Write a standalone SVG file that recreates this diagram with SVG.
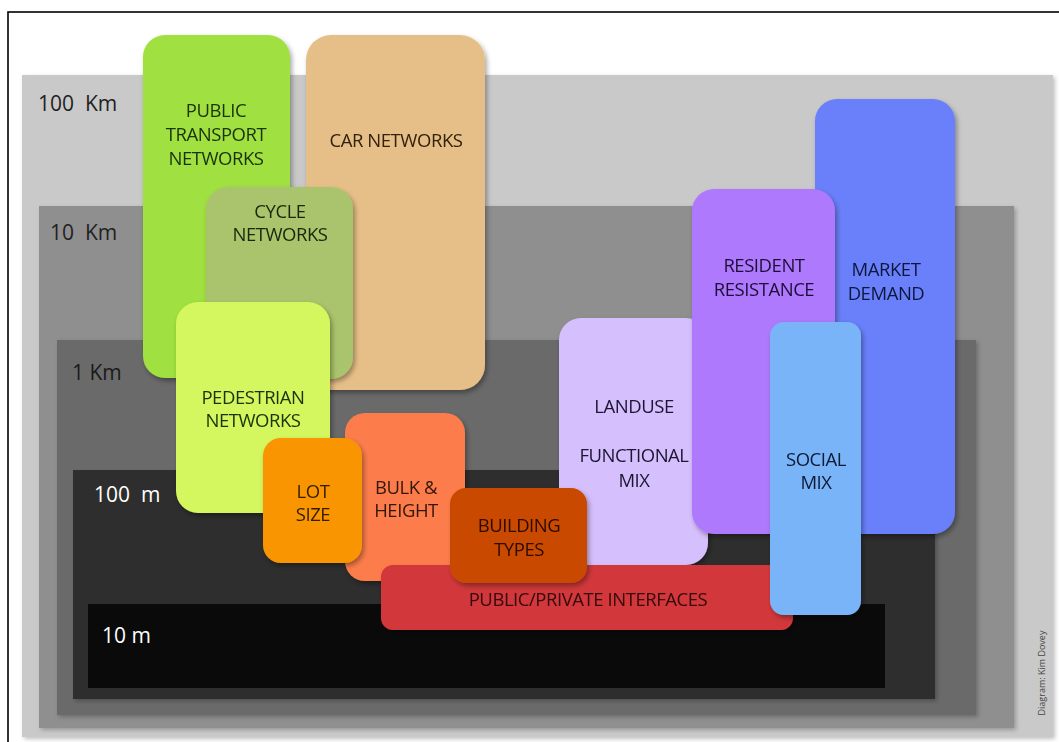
<svg xmlns="http://www.w3.org/2000/svg" width="1059" height="742" viewBox="0 0 1059 742">
<defs>
<filter id="sh" x="-10%" y="-10%" width="130%" height="130%">
<feDropShadow dx="2" dy="3" stdDeviation="2.5" flood-color="#000" flood-opacity="0.35"/>
</filter>
<filter id="lsh" x="-5%" y="-5%" width="110%" height="110%">
<feDropShadow dx="2" dy="2" stdDeviation="2" flood-color="#000" flood-opacity="0.25"/>
</filter>
</defs>
<style>
text{font-family:"Open Sans","Liberation Sans",sans-serif;}
.lab{font-size:18.5px;text-anchor:middle;letter-spacing:-0.45px;font-weight:500;}
.scale{font-size:21px;white-space:pre;}
</style>
<rect x="0" y="0" width="1059" height="742" fill="#ffffff"/>
<rect x="8" y="12" width="1100" height="800" fill="none" stroke="#000" stroke-width="1.6"/>
<g id="scales">
<rect id="s100km" x="22" y="75" width="1031" height="662" fill="#c9c9c9" filter="url(#lsh)"/>
<rect id="s10km" x="39" y="206" width="975" height="522" fill="#8f8f8f" filter="url(#lsh)"/>
<rect id="s1km" x="57" y="340" width="919" height="375" fill="#6b6b6b" filter="url(#lsh)"/>
<rect id="s100m" x="73" y="470" width="862" height="229" fill="#2f2f2f" filter="url(#lsh)"/>
<rect id="s10m" x="88" y="604" width="797" height="84" fill="#0a0a0a"/>
<text class="scale" x="38" y="111" fill="#222" xml:space="preserve">100  Km</text>
<text class="scale" x="50" y="240" fill="#222" xml:space="preserve">10  Km</text>
<text class="scale" x="72" y="380" fill="#1a1a1a" xml:space="preserve">1 Km</text>
<text class="scale" x="94" y="502" fill="#fff" xml:space="preserve">100  m</text>
<text class="scale" x="102" y="643" fill="#fff" xml:space="preserve">10 m</text>
</g>
<g id="connectors"></g>
<g id="public-transport" filter="url(#sh)">
<rect x="143" y="35" width="147" height="343" rx="22" fill="#a0e040"/>
<text class="lab" fill="#1a330a"><tspan x="216" y="117">PUBLIC</tspan><tspan x="216" y="141">TRANSPORT</tspan><tspan x="216" y="165">NETWORKS</tspan></text>
</g>
<g id="car-networks" filter="url(#sh)">
<rect x="306" y="35" width="179" height="355" rx="25" fill="#e5bf87"/>
<text class="lab" x="396" y="147" fill="#33200d">CAR NETWORKS</text>
</g>
<g id="cycle-networks" filter="url(#sh)">
<rect x="206" y="187" width="147" height="192" rx="22" fill="#a9c46c"/>
<text class="lab" fill="#1a2808"><tspan x="280" y="218">CYCLE</tspan><tspan x="280" y="241">NETWORKS</tspan></text>
</g>
<g id="pedestrian-networks" filter="url(#sh)">
<rect x="176" y="302" width="154" height="211" rx="22" fill="#d4f65e"/>
<text class="lab" fill="#1a330a"><tspan x="253" y="404">PEDESTRIAN</tspan><tspan x="253" y="427">NETWORKS</tspan></text>
</g>
<g id="bulk-height" filter="url(#sh)">
<rect x="345" y="413" width="120" height="168" rx="20" fill="#fc7d4b"/>
<text class="lab" fill="#33170a"><tspan x="406" y="494">BULK &amp;</tspan><tspan x="406" y="517">HEIGHT</tspan></text>
</g>
<g id="lot-size" filter="url(#sh)">
<rect x="263" y="438" width="99" height="125" rx="18" fill="#f99500"/>
<text class="lab" fill="#331e00"><tspan x="313" y="498">LOT</tspan><tspan x="313" y="521">SIZE</tspan></text>
</g>
<g id="landuse" filter="url(#sh)">
<rect x="559" y="318" width="149" height="247" rx="22" fill="#d6bffd"/>
<text class="lab" fill="#1a1633"><tspan x="634" y="413">LANDUSE</tspan><tspan x="634" y="462">FUNCTIONAL</tspan><tspan x="634" y="487">MIX</tspan></text>
</g>
<g id="public-private" filter="url(#sh)">
<rect x="381" y="565" width="412" height="65" rx="12" fill="#d2373b"/>
<text class="lab" x="588" y="606" fill="#330a0a">PUBLIC/PRIVATE INTERFACES</text>
</g>
<g id="building-types" filter="url(#sh)">
<rect x="450" y="488" width="137" height="95" rx="16" fill="#c94900"/>
<text class="lab" fill="#2a0c00"><tspan x="519" y="532">BUILDING</tspan><tspan x="519" y="556">TYPES</tspan></text>
</g>
<g id="market-demand" filter="url(#sh)">
<rect x="815" y="99" width="140" height="435" rx="22" fill="#6a80fa"/>
<text class="lab" fill="#0e163d"><tspan x="886" y="276">MARKET</tspan><tspan x="886" y="300">DEMAND</tspan></text>
</g>
<g id="resident-resistance" filter="url(#sh)">
<rect x="692" y="189" width="143" height="345" rx="22" fill="#ae79fc"/>
<text class="lab" fill="#1e0e38"><tspan x="764" y="272">RESIDENT</tspan><tspan x="764" y="296">RESISTANCE</tspan></text>
</g>
<g id="social-mix" filter="url(#sh)">
<rect x="770" y="322" width="91" height="293" rx="14" fill="#79b3f8"/>
<text class="lab" fill="#0d1a33"><tspan x="816" y="466">SOCIAL</tspan><tspan x="816" y="489">MIX</tspan></text>
</g>
<text x="1045" y="673" transform="rotate(-90 1045 673)" text-anchor="middle" font-size="9" fill="#444">Diagram: Kim Dovey</text>
</svg>
